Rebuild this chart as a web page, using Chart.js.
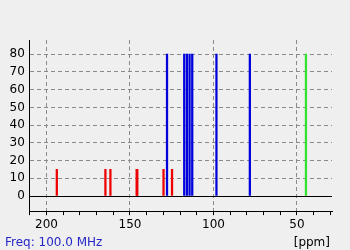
<!DOCTYPE html>
<html>
<head>
<meta charset="utf-8">
<script src="https://cdn.jsdelivr.net/npm/chart.js@4/dist/chart.umd.min.js"></script>
<style>
  html, body { margin: 0; padding: 0; background: #efefef; }
  #wrap { position: relative; width: 350px; height: 250px; }
  canvas { display: block; }
  .lbl { position: absolute; font: 12px "DejaVu Sans", sans-serif; line-height: 14px; white-space: nowrap; }
  #freq { left: 5px; top: 235px; color: #2626c8; }
  #unit { right: 20px; top: 235px; color: #000; }
</style>
</head>
<body>
<div id="wrap">
  <canvas id="c" width="350" height="250"></canvas>
  <div id="freq" class="lbl">Freq: 100.0 MHz</div>
  <div id="unit" class="lbl">[ppm]</div>
</div>
<script>
// Peak positions (ppm) and intensities
const redPpm = [193.8, 164.7, 161.7, 146.0, 145.6, 129.9, 124.8];
const redInt = [15, 15, 15, 15, 15, 15, 15];
const bluePpm = [127.8, 117.5, 115.9, 114.3, 112.7, 98.2, 78.2];
const blueInt = [80, 80, 80, 80, 80, 80, 80];
const greenPpm = [44.6];
const greenInt = [80];
const xLabeledTicks = [200, 150, 100, 50];
const yTicks = [0, 10, 20, 30, 40, 50, 60, 70, 80];

const toPts = (xs, ys) => xs.map((x, i) => ({ x: x, y: ys[i] }));
const FONT = { family: "'DejaVu Sans', sans-serif", size: 12 };

new Chart(document.getElementById('c'), {
  type: 'bar',
  data: {
    datasets: [
      { data: toPts(redPpm, redInt), backgroundColor: 'rgb(238,0,0)' },
      { data: toPts(bluePpm, blueInt), backgroundColor: 'rgb(0,0,220)' },
      { data: toPts(greenPpm, greenInt), backgroundColor: 'rgb(50,225,50)' }
    ]
  },
  options: {
    responsive: false,
    animation: false,
    devicePixelRatio: 1,
    datasets: { bar: { grouped: false, barThickness: 1.6, borderWidth: 0 } },
    layout: { padding: { left: 4.5, top: 40, right: 18, bottom: 14.5 } },
    plugins: { legend: { display: false }, tooltip: { enabled: false } },
    scales: {
      x: {
        type: 'linear',
        reverse: true,
        min: 29,
        max: 210,
        offset: false,
        afterBuildTicks: (s) => {
          const t = [];
          for (let v = 30; v <= 210; v += 10) t.push({ value: v });
          s.ticks = t;
        },
        ticks: {
          autoSkip: false,
          maxRotation: 0,
          padding: 3,
          color: '#000',
          font: FONT,
          callback: (v) => xLabeledTicks.includes(v) ? String(v) : ''
        },
        grid: {
          offset: false,
          tickLength: 4,
          tickColor: '#000',
          color: (ctx) => (ctx.tick && xLabeledTicks.includes(ctx.tick.value)) ? '#8a8a8a' : 'rgba(0,0,0,0)'
        },
        border: { display: true, color: '#000', width: 1, dash: [4, 3] }
      },
      y: {
        min: -8.5,
        max: 88,
        afterBuildTicks: (s) => { s.ticks = yTicks.map(v => ({ value: v })); },
        ticks: { padding: 5, color: '#000', font: FONT },
        grid: {
          drawTicks: false,
          color: (ctx) => (ctx.tick && ctx.tick.value === 0) ? '#000' : '#8a8a8a'
        },
        border: {
          display: true, color: '#000', width: 1,
          dash: (ctx) => (ctx.tick && ctx.tick.value === 0) ? [] : [4, 3]
        }
      }
    }
  }
});
</script>
</body>
</html>
